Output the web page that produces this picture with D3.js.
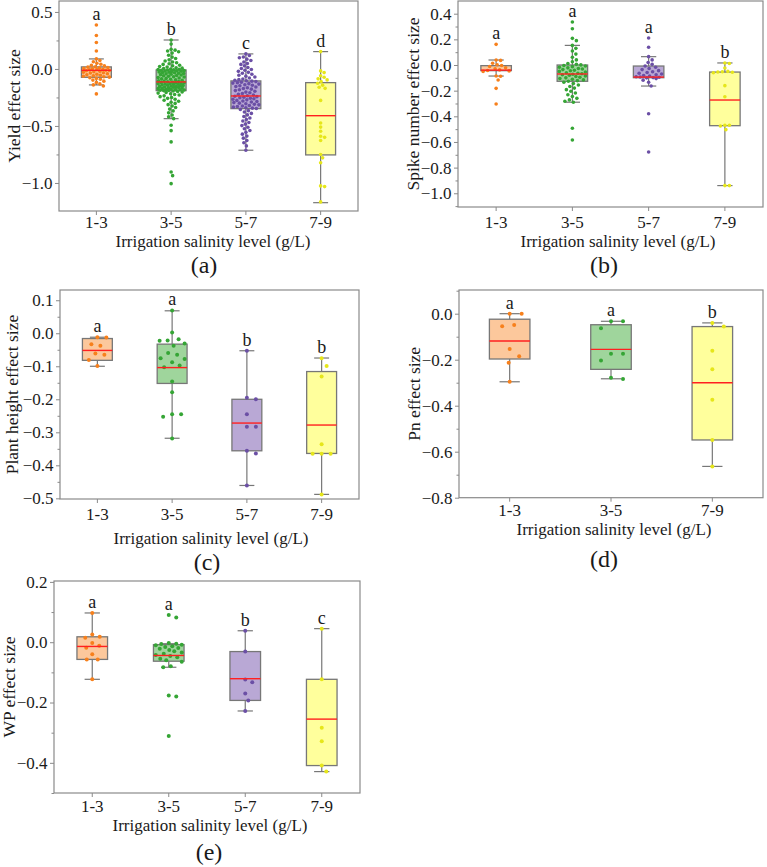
<!DOCTYPE html>
<html>
<head>
<meta charset="utf-8">
<script src="https://cdn.jsdelivr.net/npm/d3@7.9.0/dist/d3.min.js"></script>
<style>
  html, body { margin: 0; padding: 0; background: #fff; }
  svg { display: block; }
  text { font-family: "Liberation Serif", "Times New Roman", serif; fill: #1a1a1a; }
</style>
</head>
<body>
<svg id="chart" width="767" height="867"></svg>
<script>
// ---- data ----
const catsFour = ["1-3", "3-5", "5-7", "7-9"];
const catsPn = ["1-3", "3-5", "7-9"];

// box stats per category: [whisker low, q1, median, q3, whisker high]
const yieldStats = [[-0.14, -0.073, -0.012, 0.018, 0.088], [-0.436, -0.19, -0.114, -0.009, 0.254],
                    [-0.713, -0.348, -0.237, -0.105, 0.132], [-1.173, -0.754, -0.41, -0.12, 0.152]];
const spikeStats = [[-0.086, -0.044, -0.04, -0.005, 0.039], [-0.29, -0.127, -0.07, 0.0, 0.153],
                    [-0.164, -0.099, -0.094, -0.008, 0.065], [-0.94, -0.473, -0.273, -0.055, 0.016]];
const heightStats = [[-0.1, -0.082, -0.052, -0.016, -0.012], [-0.318, -0.152, -0.104, -0.033, 0.068],
                     [-0.461, -0.356, -0.272, -0.2, -0.053], [-0.488, -0.364, -0.278, -0.116, -0.075]];
const pnStats = [[-0.296, -0.197, -0.119, -0.024, 0.0], [-0.283, -0.242, -0.155, -0.048, -0.033],
                 [-0.664, -0.549, -0.3, -0.056, -0.04]];
const wpStats = [[-0.123, -0.057, -0.014, 0.018, 0.097], [-0.083, -0.063, -0.044, -0.008, -0.005],
                 [-0.228, -0.193, -0.121, -0.031, 0.038], [-0.429, -0.409, -0.255, -0.123, 0.045]];

// individual effect sizes
const yieldPoints = [
  [0.386, 0.294, 0.232, 0.157, 0.088, 0.074, 0.063, 0.05, 0.041, 0.033, 0.027, 0.019, 0.016, 0.012, 0.009,
   0.005, 0.002, -0.002, -0.006, -0.008, -0.011, -0.013, -0.016, -0.021, -0.024, -0.029, -0.033, -0.036,
   -0.042, -0.046, -0.051, -0.055, -0.06, -0.064, -0.068, -0.072, -0.077, -0.083, -0.09, -0.098, -0.107,
   -0.118, -0.131, -0.14, -0.149, -0.219],
  [0.254, 0.218, 0.172, 0.165, 0.158, 0.151, 0.139, 0.12, 0.104, 0.091, 0.08, 0.07, 0.061, 0.054, 0.046,
   0.04, 0.033, 0.027, 0.021, 0.016, 0.011, 0.007, 0.003, 0.0, -0.003, -0.005, -0.007, -0.009,
   -0.011, -0.013, -0.016, -0.018, -0.02, -0.023, -0.026, -0.029, -0.031, -0.034, -0.037, -0.04, -0.043,
   -0.047, -0.05, -0.053, -0.057, -0.06, -0.064, -0.068, -0.071, -0.075, -0.079, -0.083, -0.087, -0.091,
   -0.095, -0.099, -0.103, -0.107, -0.11, -0.113, -0.116, -0.118, -0.12, -0.122, -0.125, -0.127, -0.13,
   -0.132, -0.135, -0.137, -0.14, -0.142, -0.145, -0.147, -0.15, -0.153, -0.155, -0.158, -0.161, -0.163,
   -0.166, -0.168, -0.171, -0.173, -0.176, -0.178, -0.181, -0.183, -0.185, -0.187, -0.189, -0.19,
   -0.193, -0.197, -0.202, -0.207, -0.212, -0.218, -0.224, -0.229, -0.236, -0.243, -0.251, -0.258,
   -0.266, -0.275, -0.283, -0.292, -0.302, -0.313, -0.325, -0.338, -0.352, -0.368, -0.385, -0.404,
   -0.42, -0.436, -0.494, -0.541, -0.64, -0.904, -0.936, -1.006],
  [0.132, 0.118, 0.105, 0.098, 0.086, 0.074, 0.061, 0.048, 0.04, 0.027, 0.013, 0.004, -0.005, -0.012,
   -0.021, -0.03, -0.038, -0.047, -0.055, -0.063, -0.071, -0.08, -0.088, -0.094, -0.099, -0.103,
   -0.107, -0.111, -0.116, -0.12, -0.124, -0.129, -0.133, -0.138, -0.143, -0.148, -0.154, -0.159,
   -0.165, -0.171, -0.177, -0.183, -0.19, -0.196, -0.203, -0.209, -0.216, -0.222, -0.229, -0.235,
   -0.239, -0.243, -0.248, -0.252, -0.257, -0.262, -0.266, -0.271, -0.276, -0.281, -0.286, -0.29,
   -0.295, -0.3, -0.305, -0.31, -0.315, -0.32, -0.325, -0.33, -0.335, -0.34, -0.344, -0.347,
   -0.355, -0.366, -0.378, -0.39, -0.403, -0.417, -0.43, -0.444, -0.457, -0.47, -0.484, -0.497,
   -0.511, -0.525, -0.54, -0.556, -0.572, -0.589, -0.607, -0.627, -0.648, -0.675, -0.713],
  [0.152, -0.017, -0.032, -0.06, -0.073, -0.087, -0.096, -0.11, -0.125, -0.142, -0.16, -0.17, -0.276,
   -0.474, -0.51, -0.547, -0.59, -0.6, -0.628, -0.75, -0.78, -0.823, -1.026, -1.032, -1.166]
];
const spikePoints = [
  [0.161, 0.039, 0.036, 0.014, 0.002, -0.004, -0.012, -0.022, -0.03, -0.038, -0.043, -0.046, -0.05,
   -0.086, -0.088, -0.117, -0.182, -0.304],
  [0.335, 0.283, 0.208, 0.19, 0.153, 0.13, 0.109, 0.085, 0.06, 0.04, 0.025, 0.012, 0.005, 0.001,
   -0.004, -0.008, -0.013, -0.018, -0.022, -0.027, -0.031, -0.036, -0.041, -0.045, -0.05, -0.055,
   -0.06, -0.064, -0.068, -0.072, -0.076, -0.08, -0.085, -0.09, -0.095, -0.1, -0.105, -0.111,
   -0.116, -0.122, -0.127, -0.135, -0.145, -0.156, -0.168, -0.18, -0.192, -0.205, -0.218, -0.232,
   -0.246, -0.26, -0.272, -0.283, -0.29, -0.493, -0.585],
  [0.21, 0.138, 0.065, 0.04, 0.02, 0.005, -0.008, -0.018, -0.027, -0.036, -0.044, -0.052, -0.058,
   -0.064, -0.07, -0.076, -0.082, -0.087, -0.091, -0.094, -0.096, -0.098, -0.1, -0.106, -0.118,
   -0.135, -0.164, -0.38, -0.678],
  [0.016, 0.012, -0.023, -0.05, -0.052, -0.055, -0.057, -0.06, -0.161, -0.247, -0.47, -0.47, -0.475,
   -0.504, -0.94, -0.94]
];
const heightPoints = [
  [-0.012, -0.013, -0.033, -0.038, -0.061, -0.065, -0.081, -0.099],
  [0.069, 0.002, -0.018, -0.022, -0.023, -0.031, -0.038, -0.06, -0.065, -0.076, -0.078, -0.088,
   -0.098, -0.103, -0.146, -0.179, -0.245, -0.245, -0.253, -0.319],
  [-0.053, -0.195, -0.2, -0.245, -0.283, -0.283, -0.356, -0.364, -0.461],
  [-0.076, -0.099, -0.131, -0.336, -0.365, -0.365, -0.365, -0.488]
];
const pnPoints = [
  [0.0, 0.0, -0.049, -0.055, -0.153, -0.185, -0.213, -0.296],
  [-0.033, -0.033, -0.063, -0.174, -0.174, -0.204, -0.278, -0.284],
  [-0.04, -0.056, -0.161, -0.242, -0.374, -0.549, -0.664]
];
const wpPoints = [
  [0.097, 0.026, 0.018, 0.015, -0.003, -0.012, -0.018, -0.04, -0.057, -0.057, -0.123],
  [0.09, 0.082, -0.003, -0.005, -0.006, -0.008, -0.01, -0.013, -0.016, -0.019, -0.022, -0.026, -0.03,
   -0.034, -0.038, -0.042, -0.046, -0.05, -0.055, -0.06, -0.065, -0.08, -0.083, -0.177, -0.18, -0.311],
  [0.038, -0.031, -0.124, -0.133, -0.17, -0.193, -0.228],
  [0.045, -0.123, -0.284, -0.328, -0.409, -0.429]
];

const yieldLetters = ["a", "b", "c", "d"];
const spikeLetters = ["a", "a", "a", "b"];
const heightLetters = ["a", "a", "b", "b"];
const pnLetters = ["a", "a", "b"];
const wpLetters = ["a", "a", "b", "c"];

// y extents and tick values
const yieldDomain = [-1.246, 0.596], yieldTicks = [-1.0, -0.5, 0.0, 0.5];
const spikeDomain = [-1.107, 0.499], spikeTicks = [-1.0, -0.8, -0.6, -0.4, -0.2, 0.0, 0.2, 0.4];
const heightDomain = [-0.502, 0.131], heightTicks = [-0.5, -0.4, -0.3, -0.2, -0.1, 0.0, 0.1];
const pnDomain = [-0.8, 0.103], pnTicks = [-0.8, -0.6, -0.4, -0.2, 0.0];
const wpDomain = [-0.5, 0.203], wpTicks = [-0.4, -0.2, 0.0, 0.2];

// ---- styling ----
const pointColor = { "1-3": "#f7801c", "3-5": "#35a535", "5-7": "#6b4fa5", "7-9": "#e6e61a" };
const boxFill = { "1-3": "#fcc89c", "3-5": "#9fd59c", "5-7": "#b9a8d5", "7-9": "#ffff9c" };
const frameColor = "#8a8a8a";
const boxStroke = "#777";

const svg = d3.select("#chart");

const panels = [
  { title: "Yield effect size", label: "(a)", cats: catsFour, stats: yieldStats, points: yieldPoints,
    letters: yieldLetters, domain: yieldDomain, ticks: yieldTicks, minor: 0.25,
    x0: 59, x1: 358, y0: 1, y1: 211, tickBase: 228, titleBase: 247, titleX: 213,
    yTitleX: 20, labelX: 204, labelBase: 272.5, r: 1.8, gap: 0.2 },
  { title: "Spike number effect size", label: "(b)", cats: catsFour, stats: spikeStats, points: spikePoints,
    letters: spikeLetters, domain: spikeDomain, ticks: spikeTicks, minor: 0.1,
    x0: 458, x1: 763, y0: 1, y1: 207, tickBase: 228, titleBase: 247, titleX: 618,
    yTitleX: 419, labelX: 604, labelBase: 272.5, r: 1.8, gap: 0.8 },
  { title: "Plant height effect size", label: "(c)", cats: catsFour, stats: heightStats, points: heightPoints,
    letters: heightLetters, domain: heightDomain, ticks: heightTicks, minor: 0.05,
    x0: 60, x1: 359, y0: 290, y1: 499, tickBase: 520, titleBase: 544, titleX: 211,
    yTitleX: 18, labelX: 207, labelBase: 570, r: 2, gap: 5 },
  { title: "Pn effect size", label: "(d)", cats: catsPn, stats: pnStats, points: pnPoints,
    letters: pnLetters, domain: pnDomain, ticks: pnTicks, minor: 0.1,
    x0: 459, x1: 763, y0: 290, y1: 497.7, tickBase: 516, titleBase: 535, titleX: 614,
    yTitleX: 420, labelX: 604, labelBase: 567, r: 2, gap: 8 },
  { title: "WP effect size", label: "(e)", cats: catsFour, stats: wpStats, points: wpPoints,
    letters: wpLetters, domain: wpDomain, ticks: wpTicks, minor: 0.1,
    x0: 54, x1: 360, y0: 581, y1: 793, tickBase: 812, titleBase: 831, titleX: 210,
    yTitleX: 15, labelX: 209, labelBase: 860, r: 2, gap: 3.5 }
];

// simple beeswarm: place each point at the nearest free horizontal offset
function swarm(vals, y, half, r, gap) {
  const dmin = 2 * r + gap;
  const cands = [0];
  for (let k = 1; k * 0.5 <= half; k++) cands.push(k * 0.5, -k * 0.5);
  const pts = vals.map(v => ({ v, y: y(v) })).sort((a, b) => a.y - b.y);
  const placed = [];
  pts.forEach(p => {
    let best = 0, bestScore = -1;
    for (const dx of cands) {
      let m = Infinity;
      for (const q of placed) {
        if (Math.abs(q.y - p.y) < dmin) m = Math.min(m, Math.hypot(q.dx - dx, q.y - p.y));
      }
      if (m >= dmin) { best = dx; break; }
      if (m > bestScore) { bestScore = m; best = dx; }
    }
    p.dx = best;
    placed.push(p);
  });
  return placed;
}

panels.forEach(p => {
  const x = d3.scaleBand().domain(p.cats).range([p.x0, p.x1]).padding(0);
  const y = d3.scaleLinear().domain(p.domain).range([p.y1, p.y0]);
  const bw = x.bandwidth() * 0.4;
  const g = svg.append("g");

  // frame
  g.append("rect")
    .attr("x", p.x0).attr("y", p.y0)
    .attr("width", p.x1 - p.x0).attr("height", p.y1 - p.y0)
    .attr("fill", "none").attr("stroke", frameColor).attr("stroke-width", 1.2);

  // minor ticks
  const minorVals = d3.range(Math.ceil(p.domain[0] / p.minor), Math.floor(p.domain[1] / p.minor) + 1)
    .map(k => +(k * p.minor).toFixed(3))
    .filter(v => !p.ticks.some(t => Math.abs(t - v) < 1e-6));
  g.append("g")
    .attr("transform", `translate(${p.x0},0)`)
    .call(d3.axisLeft(y).tickValues(minorVals).tickSize(2.5).tickFormat(""))
    .call(a => a.select(".domain").remove())
    .call(a => a.selectAll("line").attr("stroke", frameColor));

  // y axis
  g.append("g")
    .attr("transform", `translate(${p.x0},0)`)
    .call(d3.axisLeft(y).tickValues(p.ticks).tickSize(4).tickPadding(2.5).tickFormat(d3.format(".1f")))
    .call(a => a.select(".domain").remove())
    .call(a => a.selectAll("line").attr("stroke", frameColor))
    .call(a => a.selectAll("text").attr("font-size", 17).attr("font-family", null).attr("fill", "#1a1a1a"));

  // x axis
  g.append("g")
    .attr("transform", `translate(0,${p.y1})`)
    .call(d3.axisBottom(x).tickSize(4))
    .call(a => a.select(".domain").remove())
    .call(a => a.selectAll("line").attr("stroke", frameColor))
    .call(a => a.selectAll("text")
      .attr("font-size", 17).attr("font-family", null).attr("fill", "#1a1a1a")
      .attr("y", p.tickBase - p.y1).attr("dy", null));

  // titles
  g.append("text")
    .attr("x", p.titleX).attr("y", p.titleBase)
    .attr("text-anchor", "middle").attr("font-size", 17)
    .text("Irrigation salinity level (g/L)");
  g.append("text")
    .attr("transform", `translate(${p.yTitleX},${(p.y0 + p.y1) / 2}) rotate(-90)`)
    .attr("text-anchor", "middle").attr("font-size", 17.5)
    .text(p.title);
  g.append("text")
    .attr("x", p.labelX).attr("y", p.labelBase)
    .attr("text-anchor", "middle").attr("font-size", 24)
    .text(p.label);

  p.cats.forEach((c, i) => {
    const [lo, q1, med, q3, hi] = p.stats[i];
    const cx = x(c) + x.bandwidth() / 2;
    const cg = g.append("g");

    // whiskers and caps
    cg.append("line").attr("x1", cx).attr("x2", cx).attr("y1", y(hi)).attr("y2", y(q3))
      .attr("stroke", boxStroke).attr("stroke-width", 1.2);
    cg.append("line").attr("x1", cx).attr("x2", cx).attr("y1", y(q1)).attr("y2", y(lo))
      .attr("stroke", boxStroke).attr("stroke-width", 1.2);
    [lo, hi].forEach(v => {
      cg.append("line").attr("x1", cx - bw / 4).attr("x2", cx + bw / 4).attr("y1", y(v)).attr("y2", y(v))
        .attr("stroke", boxStroke).attr("stroke-width", 1.2);
    });

    // box
    cg.append("rect")
      .attr("x", cx - bw / 2).attr("y", y(q3))
      .attr("width", bw).attr("height", y(q1) - y(q3))
      .attr("fill", boxFill[c]).attr("stroke", boxStroke).attr("stroke-width", 1.3);

    // points
    const placed = swarm(p.points[i], y, bw / 2 - p.r, p.r, p.gap);
    cg.selectAll("circle").data(placed).enter().append("circle")
      .attr("cx", d => cx + d.dx).attr("cy", d => d.y).attr("r", p.r)
      .attr("fill", pointColor[c]);

    // median
    cg.append("line").attr("x1", cx - bw / 2).attr("x2", cx + bw / 2).attr("y1", y(med)).attr("y2", y(med))
      .attr("stroke", "#ff2020").attr("stroke-width", 1.4);

    // significance letter
    const top = Math.max(hi, d3.max(p.points[i]));
    cg.append("text")
      .attr("x", cx).attr("y", y(top) - 5)
      .attr("text-anchor", "middle").attr("font-size", 18)
      .text(p.letters[i]);
  });
});
</script>
</body>
</html>
